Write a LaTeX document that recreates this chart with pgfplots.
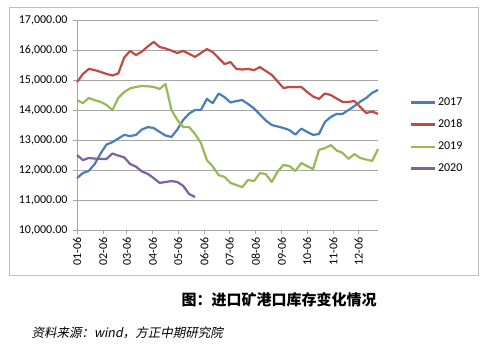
\documentclass[border=0pt]{standalone}
\usepackage{fontspec}
\setmainfont{Carlito}
\newfontfamily\cjk{Noto Sans CJK SC}
\newfontfamily\cjkit[FakeSlant=0.2]{Noto Sans CJK SC}
\usepackage{pgfplots}
\pgfplotsset{compat=1.18}
\usepackage{pgfplotstable}
\definecolor{c17}{RGB}{74,126,187}
\definecolor{c18}{RGB}{190,75,72}
\definecolor{c19}{RGB}{152,185,84}
\definecolor{c20}{RGB}{125,96,160}
\definecolor{gridc}{RGB}{166,166,166}
\definecolor{framec}{RGB}{191,191,191}

\pgfplotstableread{
w y2017 y2018 y2019
0 11730 14930 14330
1 11900 15200 14230
2 11970 15370 14400
3 12200 15330 14330
4 12550 15270 14270
5 12850 15200 14170
6 12930 15150 14000
7 13050 15220 14400
8 13170 15750 14600
9 13130 15970 14720
10 13170 15830 14770
11 13350 15950 14800
12 13430 16120 14790
13 13400 16270 14770
14 13270 16100 14700
15 13150 16050 14870
16 13100 15980 14000
17 13350 15900 13670
18 13670 15970 13430
19 13880 15870 13430
20 14000 15770 13200
21 14000 15900 12900
22 14370 16030 12330
23 14230 15930 12120
24 14550 15730 11830
25 14430 15530 11770
26 14250 15600 11570
27 14300 15370 11500
28 14330 15350 11430
29 14200 15370 11670
30 14050 15330 11630
31 13850 15430 11900
32 13650 15300 11860
33 13500 15170 11600
34 13450 14950 11950
35 13400 14730 12170
36 13330 14770 12130
37 13180 14770 11970
38 13380 14770 12230
39 13270 14600 12130
40 13170 14450 12030
41 13200 14370 12670
42 13600 14550 12730
43 13770 14500 12830
44 13870 14380 12650
45 13870 14270 12570
46 14000 14270 12370
47 14130 14300 12530
48 14280 14100 12400
49 14400 13900 12350
50 14570 13950 12300
51 14670 13870 12700
}\datamain

\pgfplotstableread{
w y2020
0 12500
1 12330
2 12400
3 12380
4 12370
5 12370
6 12550
7 12480
8 12420
9 12200
10 12110
11 11950
12 11870
13 11730
14 11570
15 11600
16 11630
17 11600
18 11470
19 11200
20 11100
}\datatwenty

\begin{document}
\begin{tikzpicture}[x=1pt,y=1pt]
\useasboundingbox (0,0) rectangle (485,360);
\draw[framec, line width=0.8pt] (9,353) rectangle (478,85);
\begin{axis}[
  scale only axis,
  width=301pt, height=210pt,
  at={(77pt,130pt)}, anchor=south west,
  xmin=0, xmax=51,
  ymin=10000, ymax=17000,
  ytick={10000,11000,...,17000},
  xtick={0,4.43,8.43,12.86,17.14,21.57,25.86,30.29,34.71,39,43.43,47.71},
  xticklabels={01-06,02-06,03-06,04-06,05-06,06-06,07-06,08-06,09-06,10-06,11-06,12-06},
  axis x line*=bottom, axis y line*=left,
  axis line style={gridc, line width=0.9pt},
  ymajorgrids, grid style={gridc, line width=0.9pt},
  tick align=outside, major tick length=4pt,
  tick style={gridc, line width=0.8pt},
  /pgf/number format/assume math mode=true,
  yticklabel={\pgfmathprintnumber[fixed, fixed zerofill, precision=2, 1000 sep={,}]{\tick}},
  scaled y ticks=false,
  yticklabel style={font=\fontsize{12}{14}\selectfont, xshift=-2pt},
  xticklabel style={font=\fontsize{12}{14}\selectfont, rotate=90, anchor=east, xshift=0pt},
  legend style={draw=none, fill=none, at={(rel axis cs:1.105,0.64)}, anchor=north west,
    font=\fontsize{12}{14}\selectfont, row sep=8.6pt, inner sep=0pt,
    /tikz/every even column/.append style={column sep=2pt}},
  legend cell align=left,
  legend image code/.code={\draw[#1] (0pt,0pt) -- (24pt,0pt);},
  every axis plot/.append style={line width=2.2pt, line join=round},
  clip=false,
]
\addplot[c17, no markers] table[x=w, y=y2017] {\datamain};
\addlegendentry{2017}
\addplot[c18, no markers] table[x=w, y=y2018] {\datamain};
\addlegendentry{2018}
\addplot[c19, no markers] table[x=w, y=y2019] {\datamain};
\addlegendentry{2019}
\addplot[c20, no markers] table[x=w, y=y2020] {\datatwenty};
\addlegendentry{2020}
\end{axis}
\node[font=\cjk\bfseries\fontsize{15}{17}\selectfont, anchor=center] at (279,60) {图：进口矿港口库存变化情况};
\node[font=\cjkit\fontsize{12.5}{14}\selectfont, anchor=west] at (28,27) {资料来源：wind，方正中期研究院};
\end{tikzpicture}
\end{document}
